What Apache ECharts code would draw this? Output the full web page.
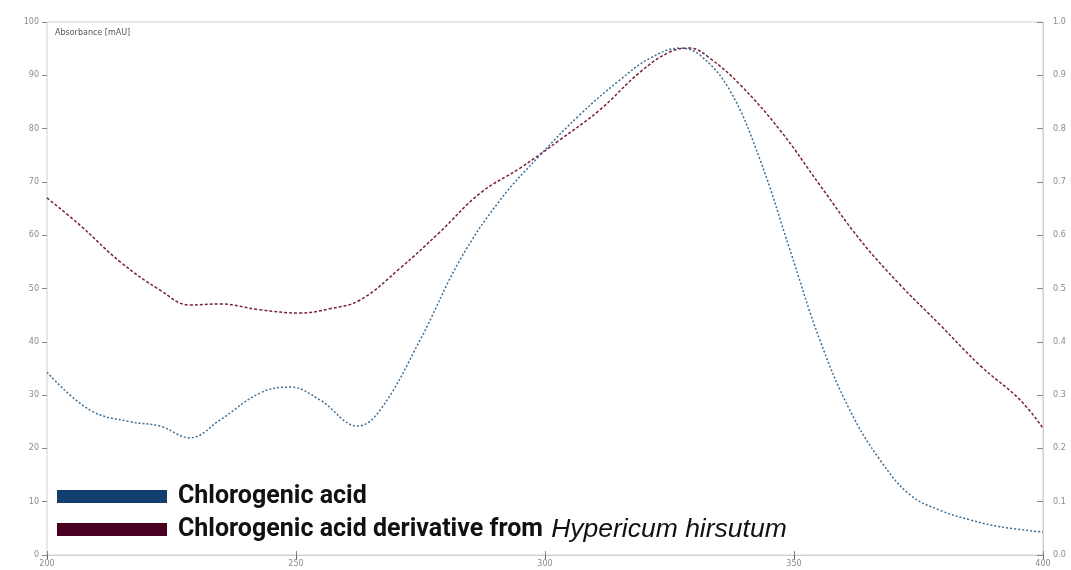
<!DOCTYPE html>
<html>
<head>
<meta charset="utf-8">
<script src="https://cdn.jsdelivr.net/npm/echarts@6/dist/echarts.min.js"></script>
<style>
  html, body { margin: 0; padding: 0; background: #fff; }
  #chart { width: 1071px; height: 570px; }
</style>
</head>
<body>
<div id="chart"></div>
<script>
// wavelength (nm) / relative absorbance pairs
const acidWavelengths = [200, 208.6, 216.7, 222.7, 228.7, 234.7, 242.8, 248.8, 254.8, 262.4, 266.9, 274.9, 282.9, 291, 299, 307, 315, 321.1, 327.1, 331.1, 337.1, 343.2, 349.2, 355.2, 361.2, 367.3, 373.3, 379.3, 385.3, 391.4, 400];
const acidValues = [34.3, 27.2, 25, 24.2, 22, 25.3, 30.4, 31.5, 29.1, 24.2, 27.2, 40.3, 55.3, 66.6, 75, 82.6, 89.1, 93.2, 95.1, 93.8, 87.2, 74.1, 57.2, 40.3, 27.2, 17.8, 11.3, 8.4, 6.6, 5.3, 4.3];

const derivWavelengths = [200, 206.6, 214.7, 222.7, 228.7, 234.7, 242.8, 250.8, 256.8, 262.8, 270.9, 278.9, 287, 295, 303, 311, 319.1, 325.1, 329.1, 333.1, 339.2, 347.2, 355.2, 363.3, 371.3, 379.3, 387.3, 395.4, 400];
const derivValues = [67, 61.9, 55, 49.7, 46.9, 47.1, 46, 45.4, 46.2, 47.8, 53.8, 60.6, 67.9, 72.6, 77.9, 83.5, 90.6, 94.4, 95.1, 93.2, 88.2, 79.7, 69.4, 59.1, 50.7, 43.2, 35.6, 29.1, 23.8];

const seriesNames = ['Chlorogenic acid', 'Chlorogenic acid derivative from Hypericum hirsutum'];

const chart = echarts.init(document.getElementById('chart'));

const zip = (xs, ys) => xs.map((x, i) => [x, ys[i]]);

const axisText = { color: '#8a8a8a', fontSize: 8, fontFamily: 'DejaVu Sans' };

const option = {
    backgroundColor: '#fff',
    animation: false,
    grid: {
        left: 47, right: 28, top: 22, bottom: 15,
        show: true, borderColor: '#d0d0d0', borderWidth: 1
    },
    title: {
        text: 'Absorbance [mAU]',
        left: 50, top: 24,
        textStyle: { color: '#555', fontSize: 8, fontWeight: 'normal', fontFamily: 'DejaVu Sans' }
    },
    legend: {
        orient: 'vertical',
        left: 57, top: 484,
        padding: 0,
        itemWidth: 110, itemHeight: 13, itemGap: 7,
        icon: 'rect',
        data: [
            { name: seriesNames[0], itemStyle: { color: '#123f70' } },
            { name: seriesNames[1], itemStyle: { color: '#4a0020' } }
        ],
        formatter: name => name === seriesNames[0]
            ? '{b|Chlorogenic acid}'
            : '{b|Chlorogenic acid derivative from }{i|Hypericum hirsutum}',
        textStyle: {
            rich: {
                b: { fontSize: 25, lineHeight: 27, fontWeight: 'bold', color: '#111', fontFamily: 'Roboto', padding: [0, 0, 0, 6] },
                i: { fontSize: 26.5, lineHeight: 27, fontStyle: 'italic', color: '#111', fontFamily: 'Liberation Sans', padding: [0, 0, 0, 2] }
            }
        }
    },
    xAxis: [
        {
            type: 'value', min: 200, max: 400, interval: 50,
            axisLine: { show: true, lineStyle: { color: '#d0d0d0' } },
            axisTick: { show: true, inside: true, length: 4, lineStyle: { color: '#888' } },
            axisLabel: Object.assign({ margin: 5 }, axisText),
            splitLine: { show: false }
        },
        {
            type: 'value', min: 200, max: 400, interval: 50, position: 'top',
            axisLine: { show: true, lineStyle: { color: '#d0d0d0' } },
            axisTick: { show: true, inside: true, length: 4, lineStyle: { color: '#666' } },
            axisLabel: { show: false },
            splitLine: { show: false }
        }
    ],
    yAxis: [
        {
            type: 'value', min: 0, max: 100, interval: 10,
            axisLine: { show: false },
            axisTick: { show: true, length: 5, lineStyle: { color: '#888' } },
            axisLabel: Object.assign({ margin: 8 }, axisText),
            splitLine: { show: false }
        },
        {
            type: 'value', min: 0, max: 1, interval: 0.1, position: 'right',
            axisLine: { show: true, lineStyle: { color: '#d0d0d0' } },
            axisTick: { show: true, inside: true, length: 6, lineStyle: { color: '#888' } },
            axisLabel: Object.assign({ margin: 10, formatter: v => v.toFixed(1) }, axisText),
            splitLine: { show: false }
        }
    ],
    series: [
        {
            name: seriesNames[0],
            type: 'line',
            data: zip(acidWavelengths, acidValues),
            smooth: 0.4,
            symbol: 'none',
            color: '#123f70',
            lineStyle: { color: '#3d6e96', width: 1.5, type: [2, 2] },
            z: 3
        },
        {
            name: seriesNames[1],
            type: 'line',
            data: zip(derivWavelengths, derivValues),
            smooth: 0.4,
            symbol: 'none',
            color: '#4a0020',
            lineStyle: { color: '#7a2038', width: 1.5, type: [3, 2] },
            z: 2
        }
    ]
};

chart.setOption(option);
</script>
</body>
</html>
